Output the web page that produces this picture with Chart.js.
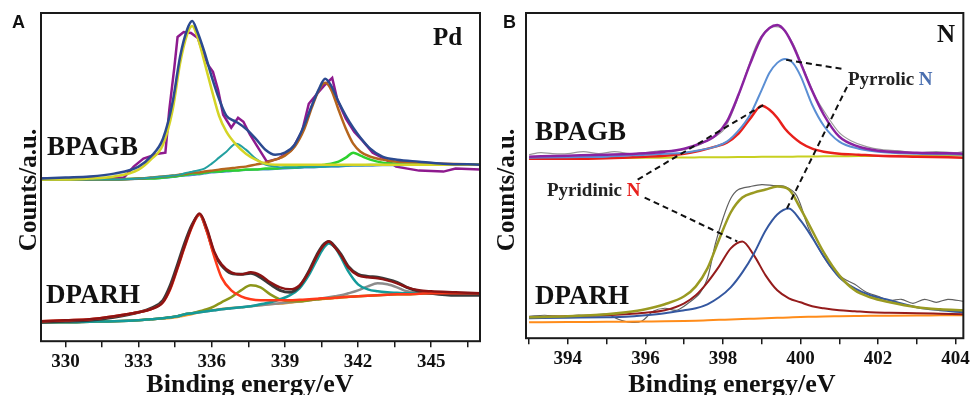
<!DOCTYPE html>
<html>
<head>
<meta charset="utf-8">
<script src="https://cdn.jsdelivr.net/npm/chart.js@4.4.1/dist/chart.umd.min.js"></script>
<style>
  html, body { margin: 0; padding: 0; background: #fff; }
  #wrap { position: relative; width: 973px; height: 395px; overflow: hidden; }
  #boxA { position: absolute; left: 0; top: 0; width: 490px; height: 395px; }
  #boxB { position: absolute; left: 490px; top: 0; width: 483px; height: 395px; }
</style>
</head>
<body>
<div id="wrap">
  <div id="boxA"><canvas id="chartA" width="490" height="395"></canvas></div>
  <div id="boxB"><canvas id="chartB" width="483" height="395"></canvas></div>
</div>
<script>
// ---- Panel A (Pd 3d), BPAGB sample: fitted curves share this energy grid
const xA1 = [329, 330, 331, 332, 333, 333.5, 334, 334.4, 334.7, 335, 335.2, 335.4, 335.7, 336, 336.3, 336.6, 337, 337.4, 337.8, 338.2, 338.6, 339, 339.4, 339.8, 340.1, 340.4, 340.65, 340.9, 341.2, 341.5, 341.8, 342.1, 342.5, 343, 343.6, 344.5, 345.5, 347];
const envA1 = [163, 164, 165, 168, 175, 185, 203, 240, 285, 313, 321, 311, 290, 265, 243, 226, 220, 213, 203, 192, 187, 189, 197, 217, 236, 253, 263, 256, 240, 226, 214, 204, 193, 185, 182, 180, 178, 177];
const pk1A1 = [162, 162, 163, 165, 172, 182, 197, 232, 278, 308, 316, 306, 280, 252, 226, 210, 197, 188, 182, 178, 177, 177, 177, 177, 177, 177, 177, 177, 177, 177, 177, 177, 177, 177, 177, 177, 177, 177];
const pk2A1 = [162, 162, 162, 162, 163, 164, 165, 166, 167, 169, 170, 171, 173, 178, 184, 190, 198, 192, 183, 177, 175, 174, 174, 174.5, 175, 175, 175, 175.5, 176, 176, 176.5, 176.5, 177, 177, 177, 177, 177, 177];
const pk3A1 = [162, 162, 162, 162, 163, 164, 165, 166, 167, 168, 169, 169, 170, 171, 172, 173, 174, 175, 177, 179, 182, 186, 195, 213, 234, 252, 259, 252, 232, 213, 198, 190, 185, 182, 180, 179, 178, 177];
const pk4A1 = [162, 162, 162, 162, 163, 163, 164, 165, 166, 167, 168, 168, 169, 170, 170, 171, 171, 172, 172, 173, 173, 174, 174, 175, 175, 176, 177, 178, 180, 184, 189, 186, 182, 179, 178, 177, 177, 177];
const bgA1 = [162, 162, 162, 162, 162.5, 163, 163.5, 164.5, 165.5, 166, 166.5, 167, 168, 169, 169.5, 170, 171, 171.5, 172, 172, 172.5, 173, 173.5, 174, 174, 174.5, 175, 175, 175, 175.5, 176, 176, 176, 176.5, 176.5, 177, 177, 177];
const rawXA1 = [329, 330, 331, 332, 332.4, 332.8, 333.2, 333.8, 334.1, 334.26, 334.47, 334.6, 334.85, 335.15, 335.43, 335.64, 335.85, 336.05, 336.26, 336.47, 336.8, 337.08, 337.3, 337.57, 337.9, 338.26, 338.74, 339.29, 339.7, 339.98, 340.32, 340.6, 340.94, 341.15, 341.5, 341.84, 342.18, 342.6, 343.15, 343.56, 344.5, 345.5, 346, 347];
const rawA1 = [163, 163, 163, 163.5, 164, 175, 183, 188, 189, 232, 275, 305, 310, 309, 304, 289, 277, 270, 252, 227, 214, 224, 220, 207, 194, 180, 183, 192, 210, 238, 248, 256, 264, 242, 223, 210, 201, 189, 182, 175, 171, 170, 173, 172];

// ---- Panel A, DPARH sample
const xA2 = [329, 330, 331, 332, 333, 333.5, 334, 334.3, 334.6, 334.9, 335.2, 335.5, 335.8, 336.1, 336.4, 336.8, 337.2, 337.6, 338, 338.4, 338.8, 339.2, 339.6, 340, 340.3, 340.55, 340.8, 341.05, 341.3, 341.6, 342, 342.4, 342.8, 343.2, 343.6, 344, 344.5, 345, 346, 347];
const envA2 = [20, 21, 22, 25, 29, 32, 39, 53, 74, 96, 116, 128, 113, 90, 77, 69, 67, 69, 66, 59, 54, 52, 56, 70, 85, 95, 100, 94, 86, 74, 66, 64, 63, 61, 58, 54, 51, 50, 49, 48];
const rawA2 = [19, 20, 21, 24, 29, 33, 41, 56, 77, 99, 117, 127, 111, 88, 76, 68, 67, 68, 64, 57, 51, 49, 55, 71, 86, 96, 100, 95, 87, 75, 67, 65, 64, 62, 59, 54, 50, 48, 46, 46];
const pk1A2 = [20, 21, 22, 25, 29, 32, 39, 52, 73, 95, 115, 127, 110, 85, 64, 51, 45, 42, 41, 41, 41, 41, 41.5, 42, 42.5, 43, 43, 43.5, 44, 44.5, 45, 45.5, 46, 46.5, 47, 47, 47.5, 48, 48, 48];
const pk2A2 = [19, 19, 19.5, 20, 21, 22, 23, 24, 25, 27, 28, 30, 32, 35, 39, 44, 51, 56, 54, 47, 42, 40, 40, 41, 42, 42.5, 43, 43.5, 44, 44.5, 45, 45.5, 46, 46.5, 47, 47, 47.5, 48, 48, 48];
const pk3A2 = [19, 19, 19.5, 20, 21, 22, 23, 24, 25, 27, 28, 29, 30, 31, 32, 33, 34, 35, 37, 39, 42, 46, 53, 67, 81, 92, 98, 94, 84, 70, 57, 52, 50, 49, 48.5, 48, 48, 48, 48, 48];
const pk4A2 = [19, 19, 19.5, 20, 21, 22, 23, 24, 25, 27, 28, 29, 30, 31, 32, 33, 34, 35, 36, 37, 38, 39, 40, 41, 42, 43, 44, 45, 46, 48, 51, 55, 58, 57, 54, 50, 48.5, 48, 48, 48];
const bgA2 = [19, 19, 19.5, 20, 21, 22, 22.5, 23, 24, 25.5, 27, 29, 30.5, 31.5, 32.5, 33.5, 34, 35, 36, 37, 37.5, 38.5, 39.5, 41, 41.5, 42, 42.5, 43, 43.5, 44, 45, 45.5, 46, 46.5, 47, 47, 47.5, 47.5, 48, 48];

// ---- Panel B (N 1s), BPAGB sample
const xB1 = [393, 394, 395, 396, 396.5, 397, 397.4, 397.8, 398.1, 398.4, 398.7, 399, 399.2, 399.4, 399.6, 399.8, 400, 400.3, 400.6, 401, 401.5, 402, 403, 404.2];
const envB1 = [182, 183, 184, 185.5, 187, 190, 195, 203, 217, 244, 275, 302, 311, 314, 308, 294, 276, 248, 224, 202, 192, 188, 186, 185];
const pyrrB1 = [181, 181.5, 182, 184, 185, 186, 188.5, 192, 197, 208, 224, 249, 266, 276, 280, 276, 263, 234, 213, 197, 190, 187, 185, 184];
const pyriB1 = [180, 180, 180.5, 182, 183, 185, 188, 192, 196, 205, 220, 233, 229, 221, 210, 202, 196, 190, 187, 185, 184, 183, 182, 181];
const bgB1 = [180, 180.3, 180.6, 180.9, 181, 181.2, 181.3, 181.4, 181.5, 181.6, 181.7, 181.8, 181.9, 181.9, 182, 182, 182.1, 182.2, 182.3, 182.4, 182.6, 182.7, 183, 183.3];
const rawXB1 = [393, 393.3, 393.6, 394, 394.4, 394.8, 395.2, 395.6, 396, 396.4, 396.8, 397.2, 397.6, 398, 398.3, 398.6, 398.9, 399.2, 399.5, 399.8, 400.1, 400.4, 400.7, 401, 401.3, 401.7, 402.1, 402.5, 403, 403.5, 404, 404.2];
const rawB1 = [184, 186, 185, 185, 187, 185, 187, 185, 186, 188, 188, 191, 198, 208, 232, 266, 297, 311, 311, 296, 268, 241, 222, 206, 198, 192, 189, 188, 186, 187, 186, 187];

// ---- Panel B, DPARH sample
const xB2 = [393, 394, 395, 395.5, 396, 396.5, 397, 397.3, 397.6, 397.9, 398.2, 398.5, 398.8, 399.1, 399.4, 399.7, 400, 400.3, 400.6, 401, 401.4, 401.8, 402.3, 403, 403.6, 404.2];
const envB2 = [21, 22, 24, 26, 29, 34, 42, 52, 70, 99, 126, 141, 146, 149, 152, 149, 130, 108, 86, 63, 48, 41, 36, 31, 29, 28];
const pyrrB2 = [20, 20.5, 21, 21.5, 23, 25, 28, 30, 34, 41, 51, 66, 85, 108, 124, 130, 118, 101, 82, 61, 50, 43, 38, 31, 28, 26];
const pyriB2 = [21, 22, 23, 24, 25.5, 28, 35, 43, 56, 72, 90, 97, 83, 63, 48, 40, 36, 32, 30, 28, 27, 26, 25.5, 25, 24.5, 24];
const bgB2 = [16, 16.2, 16.5, 16.6, 16.8, 17, 17.3, 17.6, 18, 18.4, 18.8, 19.2, 19.6, 20, 20.4, 20.8, 21.2, 21.5, 21.8, 22, 22.2, 22.4, 22.6, 22.8, 22.9, 23];
const rawXB2 = [393, 393.4, 393.8, 394.2, 394.6, 395, 395.3, 395.6, 395.9, 396.2, 396.5, 396.8, 397.1, 397.4, 397.6, 397.8, 398, 398.2, 398.4, 398.7, 399, 399.3, 399.6, 399.9, 400.2, 400.5, 400.8, 401.1, 401.4, 401.7, 402, 402.3, 402.6, 402.9, 403.2, 403.5, 403.8, 404.2];
const rawB2 = [22, 23, 22, 23, 23, 24, 19, 16, 17, 27, 30, 28, 35, 45, 60, 94, 120, 140, 149, 152, 154, 153, 152, 143, 111, 88, 70, 60, 54, 46, 42, 38, 39, 35, 39, 36, 39, 37];

// leader lines (energy / counts) from the labels to the N peaks
const pyrrLeadX = [[399.63, 401.07], [401.2, 399.65]];
const pyrrLeadY = [[279, 270], [252, 130]];
const pyriLeadX = [[395.8, 399.05], [395.98, 398.37]];
const pyriLeadY = [[159, 234], [141, 97]];

// axis ticks
const ticksA = [330, 331.5, 333, 334.5, 336, 337.5, 339, 340.5, 342, 343.5, 345, 346.5];
const labelsA = [330, 333, 336, 339, 342, 345];
const ticksB = [393, 394, 395, 396, 397, 398, 399, 400, 401, 402, 403, 404];
const labelsB = [394, 396, 398, 400, 402, 404];

const SERIF = '"Liberation Serif", "Times New Roman", serif';

function pts(xs, ys) {
  return xs.map((x, i) => ({ x: x, y: ys[i] }));
}

function line(xs, ys, color, width, order, tension) {
  return {
    data: pts(xs, ys),
    borderColor: color,
    borderWidth: width,
    pointRadius: 0,
    fill: false,
    order: order,
    tension: tension === undefined ? 0.4 : tension,
    cubicInterpolationMode: tension === undefined ? 'monotone' : 'default'
  };
}

function dashed(xs, ys) {
  return {
    data: pts(xs, ys),
    borderColor: '#111',
    borderWidth: 2,
    borderDash: [6, 4],
    pointRadius: 0,
    fill: false,
    order: 0,
    tension: 0
  };
}

// box around plot area and all free text
const framePlugin = {
  id: 'frame',
  afterDraw(chart, args, opts) {
    const ctx = chart.ctx;
    const a = chart.chartArea;
    ctx.save();
    ctx.strokeStyle = '#1a1a1a';
    ctx.lineWidth = 2;
    ctx.strokeRect(a.left, a.top, a.right - a.left, a.bottom - a.top);
    (opts.texts || []).forEach(t => {
      ctx.save();
      ctx.font = t.font;
      ctx.textBaseline = 'alphabetic';
      ctx.translate(t.x, t.y);
      if (t.rotate) ctx.rotate(t.rotate);
      const parts = t.parts || [{ s: t.s, c: t.c || '#111' }];
      let total = 0;
      parts.forEach(p => { total += ctx.measureText(p.s).width; });
      let x = t.align === 'center' ? -total / 2 : 0;
      parts.forEach(p => {
        ctx.fillStyle = p.c;
        ctx.fillText(p.s, x, 0);
        x += ctx.measureText(p.s).width;
      });
      ctx.restore();
    });
    ctx.restore();
  }
};

function makeChart(id, datasets, xmin, xmax, ymax, tickVals, labelVals, padding, texts) {
  return new Chart(document.getElementById(id), {
    type: 'line',
    data: { datasets: datasets },
    options: {
      responsive: false,
      animation: false,
      layout: { padding: padding },
      plugins: {
        legend: { display: false },
        tooltip: { enabled: false },
        frame: { texts: texts }
      },
      scales: {
        x: {
          type: 'linear',
          min: xmin,
          max: xmax,
          afterBuildTicks: scale => { scale.ticks = tickVals.map(v => ({ value: v })); },
          border: { display: false },
          grid: { display: true, drawOnChartArea: false, drawTicks: true, tickLength: 6, color: '#1a1a1a', lineWidth: 1.5 },
          ticks: {
            autoSkip: false,
            maxRotation: 0,
            padding: 3,
            color: '#111',
            font: { family: SERIF, size: 19, weight: 'bold' },
            callback: v => labelVals.some(l => Math.abs(l - v) < 1e-6) ? String(v) : ''
          }
        },
        y: { display: false, min: 0, max: ymax }
      }
    },
    plugins: [framePlugin]
  });
}

const titleFont = 'bold 26px ' + SERIF;
const yTitleFont = 'bold 25px ' + SERIF;
const sampleFont = 'bold 27px ' + SERIF;
const labelFont = 'bold 19px ' + SERIF;

makeChart('chartA', [
  line(xA1, envA1, '#2b4a90', 2.5, 1),
  line(xA1, pk1A1, '#d4d426', 2.5, 2),
  line(xA1, pk2A1, '#23a0a0', 2, 3),
  line(xA1, pk3A1, '#b5651d', 2.5, 3),
  line(xA1, pk4A1, '#2ed12e', 2.5, 3),
  line(xA1, bgA1, '#4a8fc8', 2, 4),
  line(rawXA1, rawA1, '#8e1a8e', 2.5, 5, 0),
  line(xA2, envA2, '#8b1414', 2.5, 1),
  line(xA2, rawA2, '#3a3a3a', 3, 2),
  line(xA2, pk1A2, '#ff3a1a', 2.5, 1),
  line(xA2, pk2A2, '#8c961a', 2.5, 3),
  line(xA2, pk3A2, '#149a9a', 2.5, 2),
  line(xA2, pk4A2, '#8c8c8c', 2.5, 3),
  line(xA2, bgA2, '#f5a030', 2, 4)
], 329, 347, 329, ticksA, labelsA, { left: 41, right: 10, top: 13, bottom: 19 }, [
  { s: 'A', x: 12, y: 28, font: 'bold 18px "Liberation Sans", Arial, sans-serif' },
  { s: 'Pd', x: 433, y: 45, font: 'bold 25px ' + SERIF },
  { s: 'BPAGB', x: 47, y: 155, font: sampleFont },
  { s: 'DPARH', x: 46, y: 303, font: sampleFont },
  { s: 'Counts/a.u.', x: 36, y: 190, font: yTitleFont, rotate: -Math.PI / 2, align: 'center' },
  { s: 'Binding energy/eV', x: 250, y: 392, font: titleFont, align: 'center' }
]);

makeChart('chartB', [
  line(xB1, envB1, '#8a22a0', 2.5, 1),
  line(xB1, pyrrB1, '#5b8fd4', 2, 2),
  line(xB1, pyriB1, '#e8201c', 2.5, 2),
  line(xB1, bgB1, '#c8d020', 2, 3),
  line(rawXB1, rawB1, '#9a9a9a', 1.2, 4, 0.3),
  line(xB2, envB2, '#9a9a22', 2.5, 1),
  line(xB2, pyrrB2, '#3457a0', 2, 2),
  line(xB2, pyriB2, '#951c1c', 2, 2),
  line(xB2, bgB2, '#ff8c1a', 2, 3),
  line(rawXB2, rawB2, '#606060', 1.2, 4, 0.3),
  dashed(pyrrLeadX[0], pyrrLeadY[0]),
  dashed(pyrrLeadX[1], pyrrLeadY[1]),
  dashed(pyriLeadX[0], pyriLeadY[0]),
  dashed(pyriLeadX[1], pyriLeadY[1])
], 392.92, 404.2, 326, ticksB, labelsB, { left: 36, right: 9, top: 13, bottom: 22 }, [
  { s: 'B', x: 13, y: 28, font: 'bold 18px "Liberation Sans", Arial, sans-serif' },
  { s: 'N', x: 447, y: 42, font: 'bold 25px ' + SERIF },
  { s: 'BPAGB', x: 45, y: 140, font: sampleFont },
  { s: 'DPARH', x: 45, y: 304, font: sampleFont },
  { parts: [{ s: 'Pyrrolic ', c: '#222' }, { s: 'N', c: '#4a6fb0' }], x: 358, y: 85, font: labelFont },
  { parts: [{ s: 'Pyridinic ', c: '#222' }, { s: 'N', c: '#e8201c' }], x: 57, y: 196, font: labelFont },
  { s: 'Counts/a.u.', x: 24, y: 190, font: yTitleFont, rotate: -Math.PI / 2, align: 'center' },
  { s: 'Binding energy/eV', x: 242, y: 392, font: titleFont, align: 'center' }
]);
</script>
</body>
</html>
